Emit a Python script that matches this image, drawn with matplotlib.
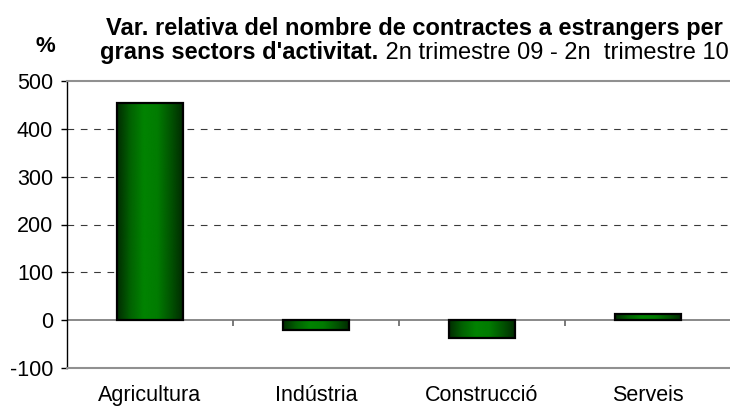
import matplotlib
matplotlib.use("Agg")
import matplotlib.pyplot as plt
import numpy as np
from matplotlib.colors import LinearSegmentedColormap
from matplotlib.transforms import blended_transform_factory

plt.rcParams['font.family'] = ['Liberation Sans', 'DejaVu Sans']

categories = ["Agricultura", "Indústria", "Construcció", "Serveis"]
values = [454, -21, -37, 13]
yticks = [-100, 0, 100, 200, 300, 400, 500]
title_line1 = "Var. relativa del nombre de contractes a estrangers per"
title_line2_bold = "grans sectors d'activitat."
title_line2_normal = " 2n trimestre 09 - 2n  trimestre 10"
ylabel = "%"

W, H = 730, 407
fig = plt.figure(figsize=(W / 100, H / 100), dpi=100)
ax = fig.add_axes([67 / W, (H - 368.3) / H, 664 / W, (368.3 - 80.7) / H])

x = np.arange(len(categories))
ymin, ymax = yticks[0], yticks[-1]
ax.set_xlim(-0.5, len(categories) - 0.5)
ax.set_ylim(ymin, ymax)

# grid lines (dashed) except top and bottom and zero
for yv in yticks:
    if yv in (ymin, ymax, 0):
        continue
    ax.axhline(yv, color='#3a3a3a', lw=0.8, dashes=(6, 6), zorder=1)
ax.axhline(0, color='#808080', lw=1.3, zorder=1.5)

bars = ax.bar(x, values, width=0.4, facecolor='none', edgecolor='black',
              linewidth=1.6, zorder=3)

cmap = LinearSegmentedColormap.from_list(
    'g', ['#012c01', '#016201', '#018301', '#017c01', '#015501', '#012801'])
grad = np.linspace(0, 1, 256).reshape(1, -1)
for b in bars:
    x0, y0 = b.get_x(), b.get_y()
    w, h = b.get_width(), b.get_height()
    im = ax.imshow(grad, cmap=cmap, aspect='auto', interpolation='bicubic',
                   extent=(x0, x0 + w, min(y0, y0 + h), max(y0, y0 + h)),
                   zorder=2.5)
    im.set_clip_path(b)
ax.set_xlim(-0.5, len(categories) - 0.5)
ax.set_ylim(ymin, ymax)

# category boundary ticks on the zero line
zero_frac = (0 - ymin) / (ymax - ymin)
tr = blended_transform_factory(ax.transData, ax.transAxes)
bounds = x[:-1] + 0.5
ax.vlines(bounds, zero_frac - 6 / 287.6, zero_frac, transform=tr,
          color='#707070', lw=1.3, zorder=1.5)

# spines
ax.spines['right'].set_visible(False)
ax.spines['top'].set_color('#909090')
ax.spines['top'].set_linewidth(1.5)
ax.spines['bottom'].set_color('#909090')
ax.spines['bottom'].set_linewidth(1.5)
ax.spines['left'].set_color('black')
ax.spines['left'].set_linewidth(1.0)

ax.set_yticks(yticks)
ax.set_yticklabels([str(v) for v in yticks])
ax.tick_params(axis='y', direction='out', length=4, width=1, color='black',
               labelsize=15.5, pad=6)
ax.set_xticks(x)
ax.set_xticklabels(categories)
ax.tick_params(axis='x', length=0, labelsize=15.5, pad=12)

# title
fs_title = 17
fig.text(414.5 / W, (H - 35) / H, title_line1, ha='center', va='baseline',
         fontsize=fs_title, fontweight='bold')
t_b = fig.text(0, (H - 59) / H, title_line2_bold, ha='left', va='baseline',
               fontsize=fs_title, fontweight='bold')
t_n = fig.text(0, (H - 59) / H, title_line2_normal, ha='left', va='baseline',
               fontsize=fs_title)
fig.canvas.draw()
r = fig.canvas.get_renderer()
wb = t_b.get_window_extent(r).width
wn = t_n.get_window_extent(r).width
start = 414.5 - (wb + wn) / 2
t_b.set_x(start / W)
t_n.set_x((start + wb) / W)

fig.text(45 / W, (H - 47) / H, ylabel, ha='center', va='center',
         fontsize=16, fontweight='bold')

fig.savefig("out.png", dpi=100)
